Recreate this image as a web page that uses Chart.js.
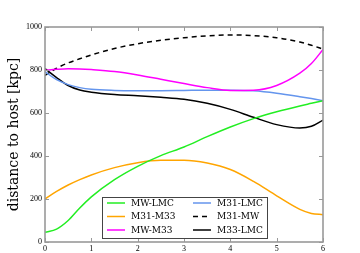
<!DOCTYPE html>
<html>
<head>
<meta charset="utf-8">
<script src="https://cdn.jsdelivr.net/npm/chart.js@4"></script>
<style>
html,body{margin:0;padding:0;background:#fff;}
#wrap{width:360px;height:253px;}
</style>
</head>
<body>
<div id="wrap"><canvas id="c"></canvas></div>
<script>
// time grid (x) and distances
const times = [0, 0.25, 0.5, 0.75, 1, 1.5, 2, 2.5, 3, 3.5, 4, 4.5, 5, 5.5, 5.75, 6];
const mwLmc  = [45, 60, 100, 158, 210, 290, 352, 402, 442, 490, 535, 574, 606, 633, 645, 657];
const m31M33 = [200, 235, 265, 290, 312, 346, 369, 380, 380, 367, 337, 282, 215, 152, 133, 127];
const mwM33  = [798, 803, 806, 805, 802, 793, 777, 757, 737, 718, 705, 706, 728, 785, 830, 895];
const m31Lmc = [792, 755, 732, 718, 710, 705, 704, 704, 705, 706, 706, 703, 692, 676, 667, 657];
const m31Mw  = [775, 808, 833, 852, 870, 900, 922, 938, 950, 959, 963, 960, 950, 930, 915, 897];
const m33Lmc = [807, 765, 728, 707, 697, 686, 680, 673, 664, 645, 617, 580, 546, 530, 538, 567];

const names = ["MW-LMC", "M31-M33", "MW-M33", "M31-LMC", "M31-MW", "M33-LMC"];
const xTicks = [0, 1, 2, 3, 4, 5, 6];
const yTicks = [0, 200, 400, 600, 800, 1000];

const pts = arr => arr.map((v, i) => ({x: times[i], y: v}));

function ds(label, arr, color, dash) {
  return {
    label: label,
    data: pts(arr),
    borderColor: color,
    backgroundColor: color,
    borderWidth: 1.5,
    borderDash: dash || [],
    pointRadius: 0,
    fill: false,
    cubicInterpolationMode: 'monotone'
  };
}

// frame, inward ticks, and the boxed legend
const frame = {
  id: 'frame',
  afterDraw(chart) {
    const c = chart.ctx, a = chart.chartArea;
    const xs = chart.scales.x, ys = chart.scales.y;
    c.save();
    c.strokeStyle = '#999';
    c.lineWidth = 1;
    xTicks.forEach(t => {
      const px = Math.round(xs.getPixelForValue(t)) + 0.5;
      c.beginPath();
      c.moveTo(px, a.bottom); c.lineTo(px, a.bottom - 4);
      c.moveTo(px, a.top); c.lineTo(px, a.top + 4);
      c.stroke();
    });
    yTicks.forEach(t => {
      const py = Math.round(ys.getPixelForValue(t)) + 0.5;
      c.beginPath();
      c.moveTo(a.left, py); c.lineTo(a.left + 4, py);
      c.moveTo(a.right, py); c.lineTo(a.right - 4, py);
      c.stroke();
    });
    c.lineWidth = 1.6;
    c.strokeRect(a.left, a.top, a.right - a.left, a.bottom - a.top);

    // legend
    const lx = 102, ly = 197, lw = 165, lh = 41;
    c.fillStyle = '#fff';
    c.fillRect(lx, ly, lw, lh);
    c.strokeStyle = '#444';
    c.lineWidth = 1;
    c.strokeRect(lx + 0.5, ly + 0.5, lw, lh);
    c.font = '9px "DejaVu Serif"';
    c.textBaseline = 'middle';
    chart.data.datasets.forEach((d, i) => {
      const col = Math.floor(i / 3), row = i % 3;
      const x0 = col === 0 ? 107 : 193;
      const y0 = ly + 6 + row * 13.5;
      c.strokeStyle = d.borderColor;
      c.lineWidth = 1.5;
      c.setLineDash(d.borderDash);
      c.beginPath();
      c.moveTo(x0, y0); c.lineTo(x0 + 18, y0);
      c.stroke();
      c.setLineDash([]);
      c.fillStyle = '#000';
      c.fillText(d.label, x0 + 24, y0 + 0.5);
    });
    c.restore();
  }
};

new Chart(document.getElementById('c'), {
  type: 'line',
  data: {
    datasets: [
      ds(names[0], mwLmc, '#22ee22'),
      ds(names[1], m31M33, '#ffa500'),
      ds(names[2], mwM33, '#ff00ff'),
      ds(names[3], m31Lmc, '#6495ed'),
      ds(names[4], m31Mw, '#000000', [5, 4]),
      ds(names[5], m33Lmc, '#000000')
    ]
  },
  options: {
    responsive: true,
    maintainAspectRatio: false,
    animation: false,
    layout: {padding: {left: 0, right: 37, top: 27, bottom: 0}},
    plugins: {legend: {display: false}, tooltip: {enabled: false}},
    scales: {
      x: {
        type: 'linear', min: 0, max: 6,
        afterFit: s => { s.height = 11; },
        afterBuildTicks: s => { s.ticks = xTicks.map(v => ({value: v})); },
        grid: {display: false, drawTicks: false},
        border: {display: false},
        ticks: {padding: 2, color: '#000', font: {family: 'Liberation Serif', size: 8}, maxRotation: 0,
                callback: v => String(v)}
      },
      y: {
        type: 'linear', min: 0, max: 1000,
        afterFit: s => { s.width = 45; },
        afterBuildTicks: s => { s.ticks = yTicks.map(v => ({value: v})); },
        grid: {display: false, drawTicks: false},
        border: {display: false},
        ticks: {padding: 3, color: '#000', font: {family: 'Liberation Serif', size: 8},
                callback: v => String(v)},
        title: {display: true, text: 'distance to host [kpc]', color: '#000',
                font: {family: 'DejaVu Serif', size: 14}, padding: {top: 6, bottom: 0}}
      }
    }
  },
  plugins: [frame]
});
</script>
</body>
</html>
